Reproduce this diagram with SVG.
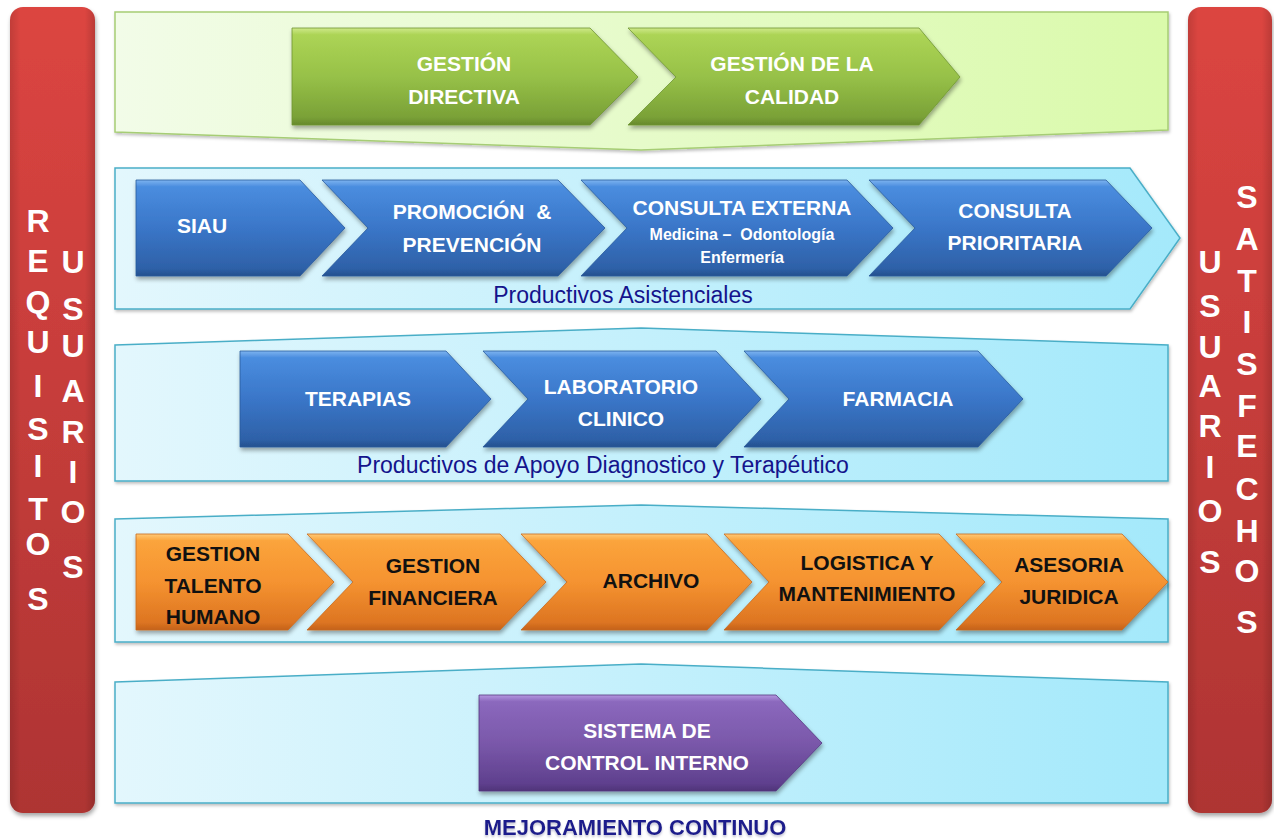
<svg xmlns="http://www.w3.org/2000/svg" width="1274" height="839" viewBox="0 0 1274 839">
<defs>
<filter id="sh" x="-10%" y="-10%" width="120%" height="130%"><feDropShadow dx="1" dy="3" stdDeviation="2" flood-color="#000" flood-opacity="0.35"/></filter>
<filter id="shs" x="-10%" y="-10%" width="120%" height="130%"><feDropShadow dx="1" dy="2" stdDeviation="1.5" flood-color="#000" flood-opacity="0.25"/></filter>
<filter id="tsh" x="-5%" y="-20%" width="110%" height="160%"><feDropShadow dx="0" dy="2" stdDeviation="1" flood-color="#8888aa" flood-opacity="0.5"/></filter>
<linearGradient id="red" x1="0" y1="0" x2="0" y2="1"><stop offset="0" stop-color="#dc4541"/><stop offset="1" stop-color="#ae3433"/></linearGradient>
<linearGradient id="redEdge" x1="0" y1="0" x2="1" y2="0"><stop offset="0" stop-color="#000" stop-opacity="0.12"/><stop offset="0.12" stop-color="#000" stop-opacity="0"/><stop offset="0.88" stop-color="#000" stop-opacity="0"/><stop offset="1" stop-color="#000" stop-opacity="0.15"/></linearGradient>
<linearGradient id="bandG" x1="0" y1="0" x2="1" y2="0"><stop offset="0" stop-color="#f2fce8"/><stop offset="1" stop-color="#dafaab"/></linearGradient>
<linearGradient id="bandB" x1="0" y1="0" x2="1" y2="0"><stop offset="0" stop-color="#e3f7fd"/><stop offset="1" stop-color="#a4e9fb"/></linearGradient>
<linearGradient id="cB" x1="0" y1="0" x2="0" y2="1"><stop offset="0" stop-color="#7eb4f0"/><stop offset="0.07" stop-color="#4a8ddf"/><stop offset="0.5" stop-color="#3a76c8"/><stop offset="0.92" stop-color="#2e61a8"/><stop offset="1" stop-color="#24508e"/></linearGradient>
<linearGradient id="cG" x1="0" y1="0" x2="0" y2="1"><stop offset="0" stop-color="#cfe98a"/><stop offset="0.07" stop-color="#acd455"/><stop offset="0.5" stop-color="#97c148"/><stop offset="0.92" stop-color="#7aa137"/><stop offset="1" stop-color="#66892c"/></linearGradient>
<linearGradient id="cO" x1="0" y1="0" x2="0" y2="1"><stop offset="0" stop-color="#ffc978"/><stop offset="0.07" stop-color="#fba43c"/><stop offset="0.5" stop-color="#f59330"/><stop offset="0.92" stop-color="#dd7522"/><stop offset="1" stop-color="#c4621a"/></linearGradient>
<linearGradient id="cP" x1="0" y1="0" x2="0" y2="1"><stop offset="0" stop-color="#b497e0"/><stop offset="0.07" stop-color="#8b68bd"/><stop offset="0.5" stop-color="#7a58aa"/><stop offset="0.92" stop-color="#5f408e"/><stop offset="1" stop-color="#4f3479"/></linearGradient>
<style>
.t{font-family:"Liberation Sans",Arial,sans-serif;font-weight:bold;font-size:21px;text-anchor:middle}
.w{fill:#fff}
.k{fill:#111}
.s{font-size:16px}
.lab{font-family:"Liberation Sans",Arial,sans-serif;font-size:23px;fill:#14148c;text-anchor:middle}
.bar{font-family:"Liberation Sans",Arial,sans-serif;font-weight:bold;font-size:32px;fill:#fff;text-anchor:middle}
.bandG{fill:url(#bandG);stroke:#a6cd74;stroke-width:1.5}
.bandB{fill:url(#bandB);stroke:#4aaec7;stroke-width:1.5}
.chB{fill:url(#cB);stroke:#2a5a9c;stroke-width:0.8}
.chG{fill:url(#cG);stroke:#6f9632;stroke-width:0.8}
.chO{fill:url(#cO);stroke:#c86a1e;stroke-width:0.8}
.chP{fill:url(#cP);stroke:#553882;stroke-width:0.8}
</style>
</defs>
<rect width="1274" height="839" fill="#fff"/>

<!-- side bars -->
<g id="bar-left">
<rect x="10" y="7" width="85" height="806" rx="13" fill="url(#red)" filter="url(#sh)"/>
<rect x="10" y="7" width="85" height="806" rx="13" fill="url(#redEdge)"/>
<g class="bar">
<text x="38" y="232">R</text><text x="38" y="272">E</text><text x="38" y="313">Q</text><text x="38" y="353">U</text><text x="38" y="397">I</text><text x="38" y="440">S</text><text x="38" y="477">I</text><text x="38" y="520">T</text><text x="38" y="555">O</text><text x="38" y="610">S</text>
<text x="73" y="273">U</text><text x="73" y="320">S</text><text x="73" y="357">U</text><text x="73" y="402">A</text><text x="73" y="443">R</text><text x="73" y="483">I</text><text x="73" y="523">O</text><text x="73" y="578">S</text>
</g>
</g>
<g id="bar-right">
<rect x="1188" y="7" width="84" height="806" rx="13" fill="url(#red)" filter="url(#sh)"/>
<rect x="1188" y="7" width="84" height="806" rx="13" fill="url(#redEdge)"/>
<g class="bar">
<text x="1210" y="273">U</text><text x="1210" y="317">S</text><text x="1210" y="358">U</text><text x="1210" y="397">A</text><text x="1210" y="437">R</text><text x="1210" y="478">I</text><text x="1210" y="522">O</text><text x="1210" y="573">S</text>
<text x="1247" y="208">S</text><text x="1247" y="250">A</text><text x="1247" y="292">T</text><text x="1247" y="333">I</text><text x="1247" y="375">S</text><text x="1247" y="417">F</text><text x="1247" y="457">E</text><text x="1247" y="500">C</text><text x="1247" y="542">H</text><text x="1247" y="582">O</text><text x="1247" y="633">S</text>
</g>
</g>

<!-- bands -->
<g id="band-directivo"><polygon class="bandG" points="115,12 1168,12 1168,130 641,150 115,132" filter="url(#shs)"/></g>
<g id="band-asistencial"><polygon class="bandB" points="115,168 1130,168 1180,238 1130,309 115,309" filter="url(#shs)"/>
<text class="lab" x="623" y="303">Productivos Asistenciales</text></g>
<g id="band-apoyo"><polygon class="bandB" points="115,345 641,328 1168,345 1168,481 115,481" filter="url(#shs)"/>
<text class="lab" x="603" y="473">Productivos de Apoyo Diagnostico y Terapéutico</text></g>
<g id="band-administrativo"><polygon class="bandB" points="115,519 641,505 1168,519 1168,642 115,642" filter="url(#shs)"/></g>
<g id="band-control"><polygon class="bandB" points="115,682 641,664 1168,682 1168,803 115,803" filter="url(#shs)"/></g>

<!-- green chevrons -->
<g id="gestion-directiva"><polygon class="chG" points="292,28 590,28 638,77 590,125 292,125" filter="url(#sh)"/>
<text class="t w" x="464" y="71">GESTIÓN</text><text class="t w" x="464" y="104">DIRECTIVA</text></g>
<g id="gestion-calidad"><polygon class="chG" points="628,28 919,28 960,77 919,125 628,125 676,77" filter="url(#sh)"/>
<text class="t w" x="792" y="71">GESTIÓN DE LA</text><text class="t w" x="792" y="104">CALIDAD</text></g>

<!-- blue row 1 -->
<g id="siau"><polygon class="chB" points="136,180 300,180 345,228 300,276 136,276" filter="url(#sh)"/>
<text class="t w" x="202" y="233">SIAU</text></g>
<g id="promocion"><polygon class="chB" points="322,180 558,180 605,228 558,276 322,276 368,228" filter="url(#sh)"/>
<text class="t w" x="472" y="219" xml:space="preserve">PROMOCIÓN  &amp;</text><text class="t w" x="472" y="252">PREVENCIÓN</text></g>
<g id="consulta-externa"><polygon class="chB" points="581,180 847,180 893,228 847,276 581,276 627,228" filter="url(#sh)"/>
<text class="t w" x="742" y="215">CONSULTA EXTERNA</text>
<text class="t w s" x="742" y="240" xml:space="preserve">Medicina –  Odontología</text>
<text class="t w s" x="742" y="263">Enfermería</text></g>
<g id="consulta-prioritaria"><polygon class="chB" points="869,180 1106,180 1152,228 1106,276 869,276 915,228" filter="url(#sh)"/>
<text class="t w" x="1015" y="218">CONSULTA</text><text class="t w" x="1015" y="250">PRIORITARIA</text></g>

<!-- blue row 2 -->
<g id="terapias"><polygon class="chB" points="240,351 446,351 491,399 446,447 240,447" filter="url(#sh)"/>
<text class="t w" x="358" y="406">TERAPIAS</text></g>
<g id="laboratorio"><polygon class="chB" points="483,351 716,351 761,399 716,447 483,447 528,399" filter="url(#sh)"/>
<text class="t w" x="621" y="394">LABORATORIO</text><text class="t w" x="621" y="426">CLINICO</text></g>
<g id="farmacia"><polygon class="chB" points="744,351 978,351 1023,399 978,447 744,447 789,399" filter="url(#sh)"/>
<text class="t w" x="898" y="406">FARMACIA</text></g>

<!-- orange row -->
<g id="talento-humano"><polygon class="chO" points="136,534 288,534 334,582 288,630 136,630" filter="url(#sh)"/>
<text class="t k" x="213" y="561">GESTION</text><text class="t k" x="213" y="593">TALENTO</text><text class="t k" x="213" y="624">HUMANO</text></g>
<g id="gestion-financiera"><polygon class="chO" points="307,534 500,534 546,582 500,630 307,630 353,582" filter="url(#sh)"/>
<text class="t k" x="433" y="573">GESTION</text><text class="t k" x="433" y="605">FINANCIERA</text></g>
<g id="archivo"><polygon class="chO" points="521,534 707,534 752,582 707,630 521,630 567,582" filter="url(#sh)"/>
<text class="t k" x="651" y="588">ARCHIVO</text></g>
<g id="logistica"><polygon class="chO" points="724,534 939,534 985,582 939,630 724,630 769,582" filter="url(#sh)"/>
<text class="t k" x="867" y="570">LOGISTICA Y</text><text class="t k" x="867" y="601">MANTENIMIENTO</text></g>
<g id="asesoria-juridica"><polygon class="chO" points="956,534 1122,534 1168,582 1122,630 956,630 1002,582" filter="url(#sh)"/>
<text class="t k" x="1069" y="572">ASESORIA</text><text class="t k" x="1069" y="604">JURIDICA</text></g>

<!-- purple -->
<g id="control-interno"><polygon class="chP" points="479,695 776,695 822,743 776,791 479,791" filter="url(#sh)"/>
<text class="t w" x="647" y="738">SISTEMA DE</text><text class="t w" x="647" y="770">CONTROL INTERNO</text></g>

<g id="mejoramiento"><text class="t" x="635" y="835" style="font-size:22px;fill:#1c1c8c" filter="url(#tsh)">MEJORAMIENTO CONTINUO</text></g>
<g id="connectors"/>
</svg>
